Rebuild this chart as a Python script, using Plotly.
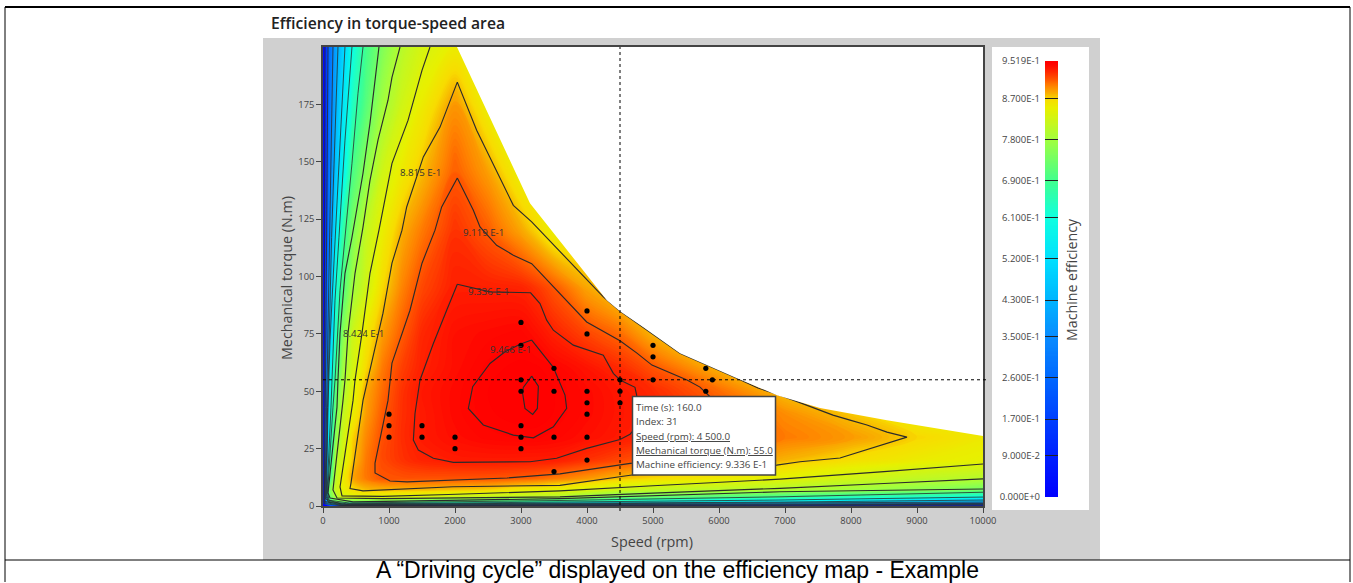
import plotly.graph_objects as go

W, H = 1353, 583
FONT = "Open Sans"
INK = "#444444"

speed_grid = [0, 100, 200, 300, 450, 650, 900, 1200, 1500, 2000, 2500, 3000, 3200, 3500, 4000, 4500, 5000, 6000, 7000, 8000, 9000, 10000]
torque_grid = [0, 1, 2, 4, 7, 12, 20, 30, 40, 50, 60, 75, 95, 120, 145, 175, 200]

eff_t0 = [0] * 22
eff_t1 = [0, .50, .56, .59, .585, .575, .56, .55, .535, .52, .495, .47, .46, .445, .425, .415, .40, .385, .37, .35, .33, .30]
eff_t2 = [0, .64, .72, .74, .74, .735, .73, .72, .71, .70, .68, .665, .658, .65, .63, .61, .59, .56, .54, .52, .48, .44]
eff_t4 = [0, .72, .795, .83, .84, .84, .84, .835, .83, .815, .81, .805, .803, .80, .77, .74, .73, .70, .68, .65, .63, .60]
eff_t7 = [0, .74, .82, .845, .865, .877, .879, .879, .878, .875, .87, .855, .85, .845, .835, .82, .81, .803, .795, .78, .76, .735]
eff_t12 = [0, .68, .81, .85, .885, .90, .912, .913, .913, .913, .9125, .909, .907, .90, .89, .877, .868, .855, .842, .825, .81, .80]
eff_t20 = [0, .63, .80, .83, .875, .90, .916, .925, .931, .9345, .935, .9345, .934, .9336, .925, .917, .91, .895, .88, .865, .853, .846]
eff_t30 = [0, .61, .76, .82, .87, .895, .914, .927, .935, .941, .945, .9465, .9467, .945, .94, .935, .927, .912, .90, .889, .87, .855]
eff_t40 = [0, .575, .74, .81, .85, .888, .91, .926, .935, .943, .9475, .9495, .95, .9478, .943, .9368, .93, .912, .894, .875, .85, .85]
eff_t50 = [0, .565, .72, .79, .84, .884, .905, .925, .936, .943, .948, .95, .9505, .948, .943, .936, .928, .905, .875, .85, .85, .85]
eff_t60 = [0, .536, .687, .775, .827, .868, .90, .92, .932, .941, .947, .949, .949, .946, .938, .928, .913, .88, .86, .85, .85, .85]
eff_t75 = [0, .43, .65, .75, .82, .856, .888, .91, .929, .94, .943, .945, .941, .932, .918, .905, .88, .86, .85, .85, .85, .85]
eff_t95 = [0, .41, .615, .70, .78, .825, .868, .897, .917, .933, .9325, .931, .925, .912, .885, .865, .85, .85, .85, .85, .85, .85]
eff_t120 = [0, .34, .55, .66, .745, .81, .85, .882, .90, .925, .91, .885, .872, .85, .845, .845, .845, .845, .845, .845, .845, .845]
eff_t145 = [0, .31, .47, .57, .70, .76, .825, .856, .878, .91, .888, .85, .845, .845, .845, .845, .845, .845, .845, .845, .845, .845]
eff_t175 = [0, .29, .43, .53, .64, .71, .78, .825, .853, .89, .85, .845, .845, .845, .845, .845, .845, .845, .845, .845, .845, .845]
eff_t200 = [0, .28, .40, .49, .605, .69, .75, .803, .83, .852, .845, .845, .845, .845, .845, .845, .845, .845, .845, .845, .845, .845]
efficiency = [eff_t0, eff_t1, eff_t2, eff_t4, eff_t7, eff_t12, eff_t20, eff_t30, eff_t40, eff_t50, eff_t60, eff_t75, eff_t95, eff_t120, eff_t145, eff_t175, eff_t200]

envelope_speed = [2030, 3136, 4300, 4500, 4848, 5409, 6272, 6878, 7530, 8545, 10000, 10000, 2030]
envelope_torque = [200, 131.9, 89.7, 84.9, 78, 66.6, 55.7, 48.3, 42.7, 37.4, 30.5, 200, 200]

iso_9500 = ([3162, 3263, 3248, 3177, 3060, 3025, 3035, 3162], [56.6, 52.2, 42.5, 39.9, 42.5, 49, 51.7, 56.6])
iso_9466 = ([3162, 3288, 3490, 3667, 3692, 3490, 3187, 2884, 2429, 2202, 2268, 2530, 2758, 2985, 3162],
            [72.3, 67.9, 60.4, 48.3, 42.5, 34.5, 29.7, 30.9, 35.3, 42.5, 52, 62.1, 67.2, 70.5, 72.3])
iso_9336 = ([2035, 2530, 3146, 3288, 3389, 3490, 3793, 4247, 4399, 4500, 4727, 4752, 4778, 4752, 4652, 4500, 3995, 3540, 3136, 2480, 1975, 1672, 1444, 1369, 1394, 1470, 1672, 1874, 2035],
            [96.6, 93.3, 92.9, 88.2, 81, 76.6, 70.1, 65.7, 57.8, 54.9, 51.7, 48.3, 40.3, 34.5, 31.3, 29, 25.1, 20.8, 19.3, 19, 19, 20.8, 24.4, 28.7, 40.3, 54.9, 70.8, 85.3, 96.6])
iso_9119 = ([2035, 1798, 1697, 1500, 1318, 1045, 985, 788, 788, 1015, 1273, 2788, 3590, 4680, 5700, 6100, 5864, 5712, 5515, 4984, 4757, 4500, 3995, 3591, 3389, 3162, 2884, 2631, 2379, 2278, 2035],
            [142.9, 130.3, 120.2, 105.8, 85.3, 62.3, 46, 18.7, 14.4, 10.9, 10.5, 12.2, 14, 18.7, 26, 40, 47.6, 51.8, 54.9, 61.4, 66.6, 72, 80.2, 92.6, 98.4, 105.6, 109.3, 113.6, 121.6, 128.9, 142.9])
iso_8815 = ([2035, 1773, 1520, 1268, 1197, 1045, 909, 682, 606, 424, 409, 606, 1970, 3590, 4680, 6873, 7227, 7833, 8848, 8545, 8242, 7985, 7727, 6924, 6590, 6272, 5409, 4848, 4500, 4247, 3162, 2884, 2581, 2328, 2035],
            [184.7, 165.1, 152.1, 130.3, 120.2, 105.8, 84, 54.9, 46, 10, 7.6, 6.6, 8.4, 9, 13.5, 17.8, 19.3, 20.9, 30, 32.2, 35.3, 37.4, 39.6, 48.3, 51.4, 55.7, 66.6, 77.9, 84.9, 91.1, 123.8, 131, 149.2, 163.7, 184.7])
iso_8424 = ([1621, 1500, 1288, 1045, 848, 712, 591, 485, 455, 258, 288, 900, 1900, 3590, 5000, 6924, 8500, 10000],
            [200, 189.8, 168, 149.3, 120.2, 101.4, 75.3, 54.9, 46, 8.3, 4.4, 4.2, 5, 6.6, 8.8, 11.7, 15, 18.3])
iso_8000 = ([1167, 1045, 985, 833, 712, 606, 485, 379, 333, 303, 151, 212, 909, 2200, 3590, 5000, 6924, 8500, 10000],
            [200, 186.8, 176.8, 159.4, 141.9, 121.5, 101.4, 75.3, 54.9, 46, 7, 3.5, 3.2, 3.5, 4, 5.6, 7.7, 9.8, 11.8])
iso_7400 = ([848, 712, 606, 439, 333, 258, 227, 212, 76, 106, 455, 2000, 3590, 6924, 10000],
            [200, 166.8, 145, 117.1, 101.4, 75.3, 54.9, 43.1, 5.7, 3.5, 1.8, 2.4, 3.2, 6.2, 7.4])
iso_6800 = ([606, 530, 439, 333, 258, 182, 151, 70, 90, 400, 2000, 3590, 6924, 10000],
            [200, 179.8, 149.3, 117.1, 94, 54.9, 43.1, 6, 2.5, 1.3, 1.8, 2.4, 4, 6])
iso_6000 = ([439, 333, 242, 182, 121, 60, 80, 350, 2000, 6924, 10000],
            [200, 159.4, 117.1, 89.7, 43.1, 5, 2, 1, 1.3, 2.6, 3.9])
iso_5200 = ([333, 182, 106, 76, 50, 80, 350, 2000, 6924, 10000],
            [200, 117.1, 72.3, 43.1, 4, 1.6, .8, 1, 1.7, 2.6])
iso_4300 = ([227, 130, 70, 40, 300, 10000], [200, 117, 43, 3, .6, 1.7])
iso_3400 = ([151, 100, 55, 30, 300, 10000], [200, 117, 43, 2, .4, 1.1])
iso_2500 = ([76, 60, 35, 20, 300, 10000], [200, 117, 43, 1.5, .25, .7])
iso_1500 = ([30, 25, 15, 300, 10000], [200, 100, 1, .1, .35])
iso_high = [iso_9500, iso_9466, iso_9336, iso_9119, iso_8815, iso_8424, iso_8000, iso_7400]
iso_low = [iso_6800, iso_6000, iso_5200, iso_4300, iso_3400, iso_2500, iso_1500]

iso_label_text = ["8.815 E-1", "9.119 E-1", "9.336 E-1", "9.466 E-1", "8.424 E-1"]
iso_label_speed = [1470, 2439, 2510, 2840, 606]
iso_label_torque = [145.4, 119.3, 93.6, 68.2, 75.3]

cycle_speed = [1000, 1000, 1000, 1500, 1500, 2000, 2000, 3000, 3000, 3000, 3000, 3000, 3000, 3000, 3500, 3500, 3500, 3500,
               4000, 4000, 4000, 4000, 4000, 4000, 4000, 4500, 4500, 4500, 5000, 5000, 5000, 5800, 5900, 5800]
cycle_torque = [40, 35, 30, 35, 30, 30, 25, 80, 70, 55, 50, 35, 30, 25, 60, 50, 30, 15,
                85, 75, 50, 45, 40, 30, 20, 55, 50, 45, 70, 65, 55, 60, 55, 50]
cursor_speed = 4500
cursor_torque = 55

x_ticks = [0, 1000, 2000, 3000, 4000, 5000, 6000, 7000, 8000, 9000, 10000]
x_tick_labels = ["0", "1000", "2000", "3000", "4000", "5000", "6000", "7000", "8000", "9000", "10000"]
y_ticks = [0, 25, 50, 75, 100, 125, 150, 175]
bar_levels = [0, .09, .17, .26, .35, .43, .52, .61, .69, .78, .87, .9519]
bar_labels = ["0.000E+0", "9.000E-2", "1.700E-1", "2.600E-1", "3.500E-1", "4.300E-1", "5.200E-1", "6.100E-1", "6.900E-1", "7.800E-1", "8.700E-1", "9.519E-1"]
stop_values = [0, .09, .17, .26, .35, .43, .52, .61, .69, .78, .85, .87, .8815, .90, .9119, .93, .945, .9519]
stop_colors = ["#0000ff", "#0020ff", "#0040ff", "#0068ff", "#0a8cff", "#00b4ff", "#00e0ff", "#10ffe0", "#40ff90", "#a0ff40",
               "#e8f000", "#f8dc00", "#f8b400", "#ff8000", "#ff5a00", "#ff2800", "#ff0800", "#ff0000"]
tooltip_lines = ["Time (s): 160.0", "Index: 31", "<u>Speed (rpm): 4 500.0</u>", "<u>Mechanical torque (N.m): 55.0</u>", "Machine efficiency: 9.336 E-1"]
zmax = bar_levels[-1]
colorscale = [[v / zmax, c] for v, c in zip(stop_values, stop_colors)]


def px(x):
    return x / W


def py(y):
    return 1 - y / H


fig = go.Figure()
fill_contours = dict(start=0, end=zmax, size=0.002, coloring="fill", showlines=False)
fig.add_trace(go.Contour(x=speed_grid, y=torque_grid, z=efficiency, colorscale=colorscale, zmin=0, zmax=zmax, zauto=False,
                         contours=fill_contours, line_width=0, showscale=False, hoverinfo="skip"))
for xs, ys in iso_low:
    fig.add_trace(go.Scatter(x=xs, y=ys, mode="lines", line=dict(color="#2b2b2b", width=0.8), hoverinfo="skip", showlegend=False))
for xs, ys in iso_high:
    fig.add_trace(go.Scatter(x=xs, y=ys, mode="lines", line=dict(color="#2b2b2b", width=1.15), hoverinfo="skip", showlegend=False))
fig.add_trace(go.Scatter(x=envelope_speed, y=envelope_torque, mode="lines", line=dict(width=0), fill="toself", fillcolor="white",
                         hoverinfo="skip", showlegend=False))
fig.add_trace(go.Scatter(x=cycle_speed, y=cycle_torque, mode="markers", marker=dict(color="black", size=5.2), showlegend=False))
fig.add_trace(go.Contour(x=[0, 1], y=bar_levels, z=[[v, v] for v in bar_levels], colorscale=colorscale, zmin=0, zmax=zmax, zauto=False,
                         contours=fill_contours, line_width=0, showscale=False, hoverinfo="skip", xaxis="x2", yaxis="y2"))

shapes = [
    dict(type="rect", xref="paper", yref="paper", x0=px(263), x1=px(1100), y0=py(560), y1=py(38), fillcolor="#d0d0d0", line_width=0, layer="below"),
    dict(type="rect", xref="paper", yref="paper", x0=px(992), x1=px(1089), y0=py(510), y1=py(47), fillcolor="white", line_width=0, layer="below"),
    dict(type="line", xref="paper", yref="paper", x0=px(5), x1=px(1350), y0=py(7), y1=py(7), line=dict(color="black", width=2)),
    dict(type="line", xref="paper", yref="paper", x0=px(5), x1=px(1350), y0=py(560), y1=py(560), line=dict(color="black", width=1)),
    dict(type="line", xref="paper", yref="paper", x0=px(5), x1=px(5), y0=py(582), y1=py(7), line=dict(color="black", width=1)),
    dict(type="line", xref="paper", yref="paper", x0=px(1350), x1=px(1350), y0=py(582), y1=py(7), line=dict(color="black", width=1)),
    dict(type="line", xref="x", yref="paper", x0=cursor_speed, x1=cursor_speed, y0=py(511), y1=py(47), line=dict(color="black", width=1, dash="dot"), layer="above"),
    dict(type="line", xref="paper", yref="y", x0=px(323), x1=px(988), y0=cursor_torque, y1=cursor_torque, line=dict(color="black", width=1, dash="dot"), layer="above"),
    dict(type="rect", xref="paper", yref="paper", x0=px(632.5), x1=px(775.5), y0=py(475), y1=py(396.5), fillcolor="white", line=dict(color="#444444", width=1.5), layer="above"),
]

annotations = [
    dict(text="Efficiency in torque-speed area", xref="paper", yref="paper", x=px(269), y=py(23), xanchor="left", yanchor="middle", showarrow=False,
         font=dict(family=FONT, size=15.7, color="#222222", weight=600)),
    dict(text="A “Driving cycle” displayed on the efficiency map - Example", xref="paper", yref="paper", x=px(677), y=py(570), xanchor="center", yanchor="middle", showarrow=False,
         font=dict(family="Liberation Sans", size=23, color="black")),
    dict(text="Machine efficiency", xref="paper", yref="paper", x=px(1072), y=py(280), xanchor="center", yanchor="middle", textangle=-90, showarrow=False,
         font=dict(family=FONT, size=14.2, color=INK)),
    dict(text="Speed (rpm)", xref="paper", yref="paper", x=px(652), y=py(541), xanchor="center", yanchor="middle", showarrow=False,
         font=dict(family=FONT, size=14.4, color=INK)),
    dict(text="Mechanical torque (N.m)", xref="paper", yref="paper", x=px(286), y=py(278), xanchor="center", yanchor="middle", textangle=-90, showarrow=False,
         font=dict(family=FONT, size=14.3, color=INK)),
]
for t, s, q in zip(iso_label_text, iso_label_speed, iso_label_torque):
    annotations.append(dict(text=t, x=s, y=q, xref="x", yref="y", showarrow=False, font=dict(family=FONT, size=9.7, color="#333333")))
for line, y in zip(tooltip_lines, [407, 421.5, 436, 450, 464]):
    annotations.append(dict(text=line, xref="paper", yref="paper", x=px(634), y=py(y), xanchor="left", yanchor="middle", showarrow=False,
                            font=dict(family=FONT, size=9.8, color=INK)))

tick_font = dict(family=FONT, size=9.4, color=INK)
fig.update_layout(
    width=W, height=H, margin=dict(l=0, r=0, t=0, b=0), paper_bgcolor="white", plot_bgcolor="white", showlegend=False,
    shapes=shapes, annotations=annotations, hovermode=False,
    xaxis=dict(domain=[px(323), px(983)], range=[0, 10000], tickvals=x_ticks, ticktext=x_tick_labels, ticks="outside", ticklen=5, tickcolor=INK, tickfont=tick_font,
               showgrid=False, zeroline=False, showline=True, mirror=True, linecolor="#444444", linewidth=1.5, automargin=False),
    yaxis=dict(domain=[py(506), py(47)], range=[0, 200], tickvals=y_ticks, ticks="outside", ticklen=5, tickcolor=INK, tickfont=tick_font,
               showgrid=False, zeroline=False, showline=True, mirror=True, linecolor="#444444", linewidth=1.5, automargin=False),
    xaxis2=dict(domain=[px(1045), px(1058)], range=[0, 1], anchor="y2", showticklabels=False, ticks="", showgrid=False, zeroline=False, automargin=False),
    yaxis2=dict(domain=[py(497), py(61)], range=[0, zmax], anchor="x2", side="left", tickvals=bar_levels, ticktext=bar_labels, ticks="inside", ticklen=13,
                tickcolor="#222222", tickwidth=1, ticklabelstandoff=4, tickfont=dict(family=FONT, size=9.5, color=INK), showgrid=False, zeroline=False, automargin=False),
)

fig.write_html("out.html", config={"displayModeBar": False},
               post_script="document.body.style.margin='0';document.documentElement.style.overflow='hidden';var g=document.getElementById('{plot_id}');g.style.position='absolute';g.style.left='0';g.style.top='0';")
